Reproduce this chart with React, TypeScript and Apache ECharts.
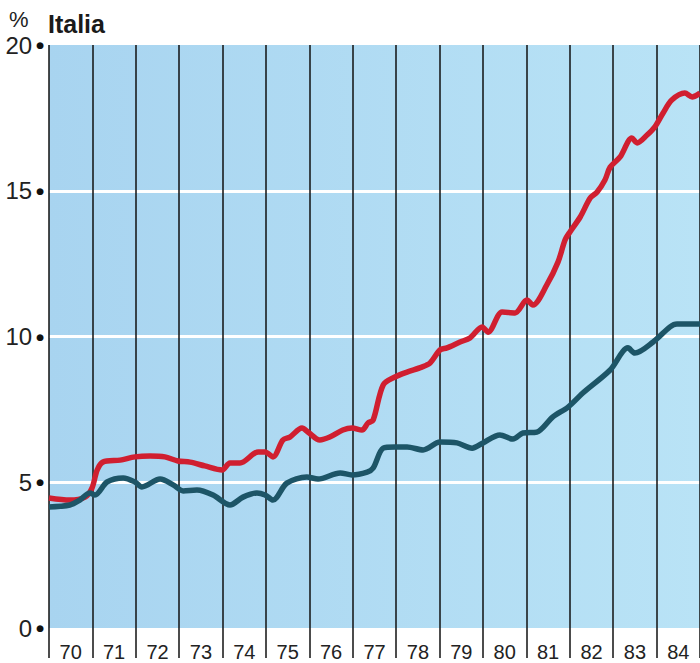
import React, { useEffect, useRef } from "react";
import * as echarts from "echarts";

const yearLabels = ["70", "71", "72", "73", "74", "75", "76", "77", "78", "79", "80", "81", "82", "83", "84"];

const redTimes = [1970.0, 1970.48, 1970.83, 1970.99, 1971.11, 1971.24, 1971.64, 1971.98, 1972.33, 1972.67, 1972.97, 1973.25, 1973.59, 1973.99, 1974.17, 1974.4, 1974.82, 1974.98, 1975.16, 1975.39, 1975.55, 1975.83, 1975.97, 1976.24, 1976.47, 1976.77, 1976.98, 1977.21, 1977.35, 1977.47, 1977.7, 1977.97, 1978.25, 1978.59, 1978.78, 1979.01, 1979.17, 1979.47, 1979.7, 1979.98, 1980.12, 1980.44, 1980.74, 1981.01, 1981.15, 1981.47, 1981.73, 1981.89, 1982.0, 1982.24, 1982.47, 1982.63, 1982.81, 1982.93, 1983.16, 1983.43, 1983.55, 1983.78, 1983.96, 1984.15, 1984.35, 1984.65, 1984.82, 1985.0];
const redValues = [4.46, 4.39, 4.49, 4.8, 5.42, 5.69, 5.76, 5.87, 5.9, 5.87, 5.73, 5.69, 5.56, 5.42, 5.66, 5.66, 6.04, 6.04, 5.87, 6.45, 6.55, 6.86, 6.72, 6.45, 6.55, 6.79, 6.86, 6.79, 7.03, 7.14, 8.34, 8.61, 8.78, 8.95, 9.09, 9.54, 9.61, 9.81, 9.95, 10.33, 10.15, 10.84, 10.81, 11.25, 11.08, 11.77, 12.56, 13.31, 13.58, 14.1, 14.75, 14.96, 15.37, 15.81, 16.16, 16.81, 16.64, 16.91, 17.19, 17.67, 18.11, 18.35, 18.22, 18.35];

const tealTimes = [1970.0, 1970.48, 1970.71, 1970.94, 1971.06, 1971.34, 1971.71, 1971.98, 1972.14, 1972.56, 1972.86, 1973.09, 1973.41, 1973.78, 1974.17, 1974.47, 1974.79, 1974.98, 1975.16, 1975.48, 1975.94, 1976.2, 1976.71, 1976.98, 1977.33, 1977.47, 1977.7, 1977.97, 1978.25, 1978.62, 1979.01, 1979.4, 1979.75, 1980.0, 1980.39, 1980.69, 1980.92, 1981.24, 1981.61, 1981.96, 1982.3, 1982.93, 1983.34, 1983.5, 1983.92, 1984.31, 1984.47, 1985.0];
const tealValues = [4.15, 4.22, 4.39, 4.63, 4.56, 5.01, 5.15, 5.01, 4.84, 5.11, 4.91, 4.7, 4.73, 4.56, 4.22, 4.49, 4.63, 4.56, 4.39, 4.97, 5.18, 5.11, 5.32, 5.25, 5.35, 5.49, 6.17, 6.21, 6.21, 6.11, 6.38, 6.35, 6.17, 6.35, 6.62, 6.48, 6.69, 6.72, 7.24, 7.58, 8.06, 8.85, 9.61, 9.43, 9.81, 10.33, 10.43, 10.43];

const yTicks = [0, 5, 10, 15, 20];

const FONT = "'Liberation Sans', Arial, sans-serif";

export default function App() {
  const ref = useRef<HTMLDivElement>(null);
  useEffect(() => {
    if (!ref.current) return;
    const chart = echarts.init(ref.current, null, { renderer: "svg" });
    const red = redTimes.map((t, i) => [t, redValues[i]]);
    const teal = tealTimes.map((t, i) => [t, tealValues[i]]);
    chart.setOption({
      animation: false,
      textStyle: { fontFamily: FONT },
      grid: {
        left: 49,
        right: 0,
        top: 45,
        bottom: 35,
        show: true,
        borderWidth: 0,
        backgroundColor: new echarts.graphic.LinearGradient(0, 0, 1, 0, [
          { offset: 0, color: "#a8d4f0" },
          { offset: 1, color: "#b9e3f6" },
        ]),
      },
      graphic: [
        { type: "text", left: 9, top: 8, style: { text: "%", fontSize: 22, fill: "#222", fontFamily: FONT } },
        { type: "text", left: 48, top: 11, style: { text: "Italia", fontSize: 25, fontWeight: "bold", fill: "#1a1a1a", fontFamily: FONT } },
      ],
      xAxis: [
        {
          type: "category",
          data: yearLabels,
          boundaryGap: true,
          position: "bottom",
          axisLine: { show: false },
          axisTick: { show: true, interval: 0, length: 30, lineStyle: { color: "#111", width: 1.5 } },
          splitLine: { show: true, interval: 0, lineStyle: { color: "#111", width: 1.5 } },
          axisLabel: { interval: 0, margin: 14, fontSize: 20, color: "#222", fontFamily: FONT },
        },
        {
          type: "value",
          min: 1970,
          max: 1985,
          show: false,
        },
      ],
      yAxis: {
        type: "value",
        min: 0,
        max: 20,
        interval: 5,
        axisLine: { show: false },
        axisTick: { show: false },
        splitLine: {
          show: true,
          lineStyle: { color: ["rgba(0,0,0,0)", "#ffffff", "#ffffff", "#ffffff", "rgba(0,0,0,0)"], width: 3 },
        },
        axisLabel: {
          margin: 5,
          formatter: (v: number) => (yTicks.includes(v) ? `{v|${v}}{d|●}` : ""),
          rich: {
            v: { fontSize: 24, color: "#222", fontFamily: FONT, padding: [0, 4, 0, 0], verticalAlign: "middle" },
            d: { fontSize: 9, color: "#111", fontFamily: "'DejaVu Sans', sans-serif", verticalAlign: "middle" },
          },
        },
      },
      series: [
        {
          type: "line",
          xAxisIndex: 1,
          data: red,
          smooth: 0.3,
          showSymbol: false,
          lineStyle: { color: "#d01f30", width: 5.5 },
          z: 3,
        },
        {
          type: "line",
          xAxisIndex: 1,
          data: teal,
          smooth: 0.3,
          showSymbol: false,
          lineStyle: { color: "#1d5567", width: 5.5 },
          z: 4,
        },
      ],
    });
    return () => chart.dispose();
  }, []);
  return <div ref={ref} style={{ position: "absolute", left: 0, top: 0, width: 700, height: 663 }} />;
}
